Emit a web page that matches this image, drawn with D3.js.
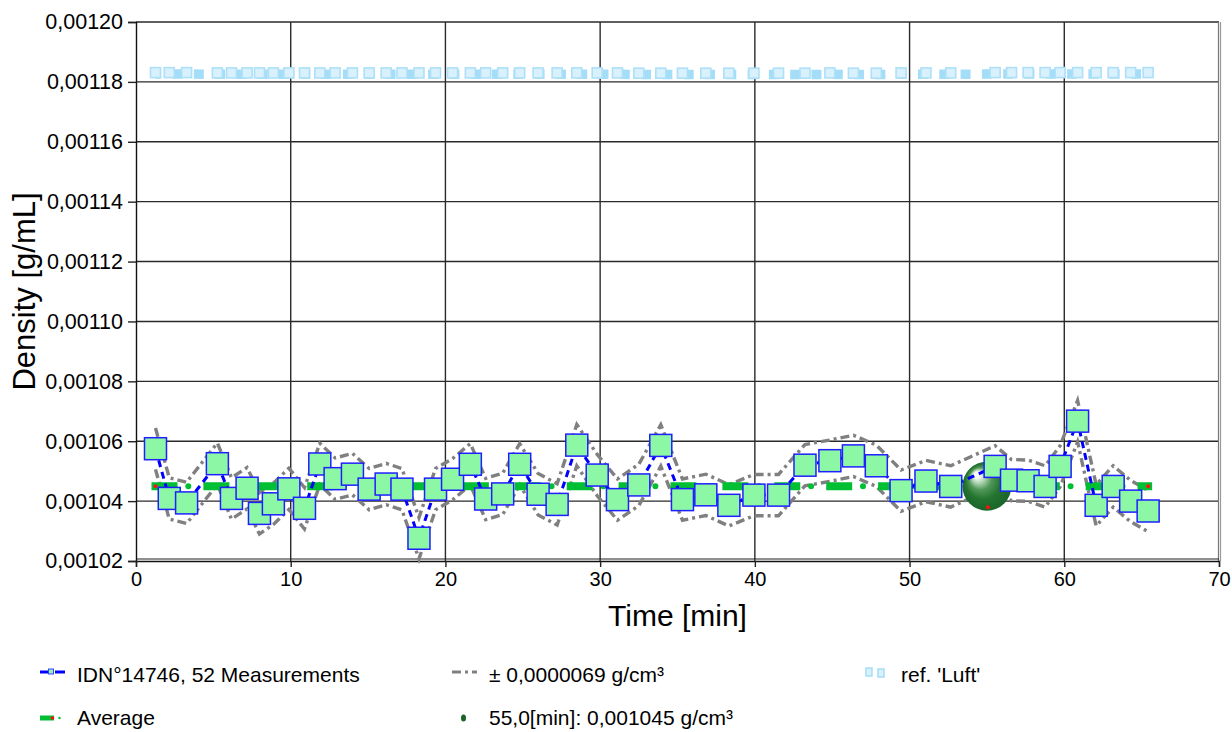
<!DOCTYPE html>
<html>
<head>
<meta charset="utf-8">
<script src="https://cdn.jsdelivr.net/npm/d3@7"></script>
<style>
  body { margin: 0; background: #fff; }
  svg { display: block; }
  text { font-family: "Liberation Sans", Arial, sans-serif; fill: #000; }
</style>
</head>
<body>
<svg id="chart" width="1232" height="732"></svg>
<script>
// Measurement times [min]
const times = [1.26, 2.15, 3.27, 5.26, 6.17, 7.18, 7.98, 8.88, 9.88, 10.89,
  11.88, 12.87, 13.99, 15.07, 16.17, 17.19, 18.29, 19.36, 20.46, 21.61,
  22.60, 23.70, 24.80, 25.99, 27.22, 28.49, 29.81, 31.12, 32.50, 33.92,
  35.32, 36.83, 38.32, 39.94, 41.53, 43.24, 44.85, 46.37, 47.85, 49.45,
  51.06, 52.66, 55.53, 56.59, 57.66, 58.76, 59.73, 60.86, 62.06, 63.16,
  64.29, 65.42];

// Sample density [g/mL], IDN°14746
const density = [0.0010575, 0.0010409, 0.0010394, 0.0010525, 0.0010409, 0.0010443, 0.0010359, 0.0010391, 0.0010441, 0.0010376,
  0.0010524, 0.0010475, 0.0010490, 0.0010440, 0.0010457, 0.0010440, 0.0010276, 0.0010440, 0.0010473, 0.0010523,
  0.0010407, 0.0010424, 0.0010523, 0.0010423, 0.0010389, 0.0010587, 0.0010487, 0.0010405, 0.0010454, 0.0010586,
  0.0010405, 0.0010421, 0.0010386, 0.0010420, 0.0010420, 0.0010520, 0.0010535, 0.0010551, 0.0010518, 0.0010435,
  0.0010467, 0.0010449, 0.0010516, 0.0010470, 0.0010468, 0.0010449, 0.0010516, 0.0010667, 0.0010386, 0.0010449,
  0.0010400, 0.0010367];

// Reference 'Luft' density [g/mL]
const refLuft = [0.0011831, 0.0011831, 0.0011831, 0.0011830, 0.0011830, 0.0011830, 0.0011830, 0.0011830, 0.0011830, 0.0011830,
  0.0011830, 0.0011830, 0.0011830, 0.0011830, 0.0011830, 0.0011830, 0.0011830, 0.0011830, 0.0011830, 0.0011830,
  0.0011830, 0.0011830, 0.0011830, 0.0011830, 0.0011830, 0.0011830, 0.0011830, 0.0011830, 0.0011829, 0.0011829,
  0.0011829, 0.0011829, 0.0011829, 0.0011829, 0.0011829, 0.0011829, 0.0011830, 0.0011829, 0.0011829, 0.0011830,
  0.0011830, 0.0011830, 0.0011831, 0.0011831, 0.0011831, 0.0011831, 0.0011831, 0.0011831, 0.0011831, 0.0011831,
  0.0011831, 0.0011831];

const averageValue = 0.001045;
const tolerance = 0.0000069;
const highlightPoint = { time: 55.0, value: 0.001045 };

const xTicks = [0, 10, 20, 30, 40, 50, 60, 70];
const yTicks = [0.00102, 0.00104, 0.00106, 0.00108, 0.00110, 0.00112, 0.00114, 0.00116, 0.00118, 0.00120];

const legendLabels = ["IDN°14746, 52 Measurements", "± 0,0000069 g/cm³", "ref. 'Luft'",
  "Average", "55,0[min]: 0,001045 g/cm³"];

const svg = d3.select("#chart");
const plotL = 136, plotR = 1219, plotT = 22, plotB = 561;
const x = d3.scaleLinear().domain([0, 70]).range([plotL, plotR]);
const y = d3.scaleLinear().domain([0.00102, 0.00120]).range([plotB, plotT]);
const fmt = d => d.toFixed(5).replace(".", ",");

// grid
const grid = svg.append("g");
grid.selectAll(".gx").data(xTicks.slice(1, -1)).join("line")
  .attr("x1", d => x(d)).attr("x2", d => x(d)).attr("y1", plotT).attr("y2", plotB)
  .attr("stroke", "#2a2a2a").attr("stroke-width", 1.4);
grid.selectAll(".gy").data(yTicks.slice(1)).join("line")
  .attr("x1", plotL).attr("x2", plotR).attr("y1", d => y(d)).attr("y2", d => y(d))
  .attr("stroke", "#2a2a2a").attr("stroke-width", 1.4);
// right frame (double grey)
grid.append("line").attr("x1", plotR - 0.5).attr("x2", plotR - 0.5).attr("y1", plotT).attr("y2", plotB)
  .attr("stroke", "#777").attr("stroke-width", 1.2);
grid.append("line").attr("x1", plotR + 1.5).attr("x2", plotR + 1.5).attr("y1", plotT).attr("y2", plotB)
  .attr("stroke", "#999").attr("stroke-width", 1.2);
// lower double line
grid.append("line").attr("x1", plotL).attr("x2", plotR).attr("y1", plotB - 2).attr("y2", plotB - 2)
  .attr("stroke", "#222").attr("stroke-width", 1.2);

// axes
const yAxis = svg.append("g").attr("transform", `translate(${plotL},0)`)
  .call(d3.axisLeft(y).tickValues(yTicks).tickSize(8).tickPadding(5).tickFormat(fmt));
yAxis.selectAll("text").style("font-size", "21.5px").attr("fill", "#000");
yAxis.selectAll("line").attr("stroke", "#222").attr("stroke-width", 1.4);
yAxis.select(".domain").attr("stroke", "#111").attr("stroke-width", 1.4);

const xAxis = svg.append("g").attr("transform", `translate(0,${plotB})`)
  .call(d3.axisBottom(x).tickValues(xTicks).tickSize(6).tickPadding(5).tickFormat(d3.format("d")));
xAxis.selectAll("text").style("font-size", "20px").attr("fill", "#000");
xAxis.selectAll("line").attr("stroke", "#222").attr("stroke-width", 1.4);
xAxis.select(".domain").attr("stroke", "#111").attr("stroke-width", 1.4);

// axis titles
svg.append("text").attr("x", (plotL + plotR) / 2).attr("y", 626).attr("text-anchor", "middle")
  .style("font-size", "30px").text("Time [min]");
svg.append("text").attr("transform", `translate(35,${(plotT + plotB) / 2}) rotate(-90)`)
  .attr("text-anchor", "middle").style("font-size", "31px").text("Density [g/mL]");

const pts = times.map((t, i) => ({ t, v: density[i], r: refLuft[i] }));
const line = d3.line().x(d => x(d[0])).y(d => y(d[1]));

// reference 'Luft'
svg.append("path").attr("d", line(pts.map(p => [p.t, p.r])))
  .attr("fill", "none").attr("stroke", "#a4ddf8").attr("stroke-width", 9.5)
  .attr("stroke-dasharray", "10,11.3").attr("stroke-dashoffset", -17)
  .attr("transform", "translate(0,1.4)");
svg.append("g").selectAll("rect").data(pts).join("rect")
  .attr("x", d => x(d.t) - 5).attr("y", d => y(d.r) - 5).attr("width", 10).attr("height", 10)
  .attr("fill", "#d8f1fc").attr("stroke", "#ade0f8").attr("stroke-width", 1.6);

// tolerance band
const band = svg.append("g");
[1, -1].forEach(s => {
  band.append("path").attr("d", line(pts.map(p => [p.t, p.v + s * tolerance])))
    .attr("fill", "none").attr("stroke", "#808080").attr("stroke-width", 3.4)
    .attr("stroke-dasharray", "9,4,3,4");
});

// average line
const avgPts = [[times[0], averageValue], [times[times.length - 1], averageValue]];
svg.append("path").attr("d", line(avgPts)).attr("fill", "none")
  .attr("stroke", "#00bf33").attr("stroke-width", 8).attr("stroke-linecap", "square")
  .attr("stroke-dasharray", "18,33.9");
svg.append("path").attr("d", line(avgPts)).attr("fill", "none")
  .attr("stroke", "#00bf33").attr("stroke-width", 6).attr("stroke-linecap", "round")
  .attr("stroke-dasharray", "0,51.9").attr("stroke-dashoffset", 19.1);
svg.selectAll(".avgEnd").data(avgPts).join("circle")
  .attr("cx", d => x(d[0])).attr("cy", d => y(d[1])).attr("r", 2).attr("fill", "#ff1010");

// highlighted point (sphere)
const defs = svg.append("defs");
const rg = defs.append("radialGradient").attr("id", "sphere")
  .attr("cx", "50%").attr("cy", "50%").attr("r", "55%").attr("fx", "27%").attr("fy", "24%");
[["0%", "#ffffff"], ["12%", "#f2f8f2"], ["24%", "#b3d6b5"], ["42%", "#4f9758"], ["65%", "#24742f"], ["100%", "#17622a"]]
  .forEach(([o, c]) => rg.append("stop").attr("offset", o).attr("stop-color", c));
const hx = x(highlightPoint.time), hy = y(highlightPoint.value);
svg.append("circle").attr("cx", hx).attr("cy", hy).attr("r", 24.5).attr("fill", "url(#sphere)");
svg.append("circle").attr("cx", hx + 1).attr("cy", hy + 21).attr("r", 2).attr("fill", "#ff1010");

// measurements
svg.append("path").attr("d", line(pts.map(p => [p.t, p.v]))).attr("fill", "none")
  .attr("stroke", "#0000ff").attr("stroke-width", 3).attr("stroke-dasharray", "7,5");
svg.append("g").selectAll("rect").data(pts).join("rect")
  .attr("x", d => x(d.t) - 11).attr("y", d => y(d.v) - 11).attr("width", 22).attr("height", 22)
  .attr("fill", "#8cf7a4").attr("stroke", "#1f1fff").attr("stroke-width", 1.5);

// legend
const lg = svg.append("g");
const r1 = 672, r2 = 718;
lg.append("line").attr("x1", 40).attr("x2", 65).attr("y1", r1).attr("y2", r1)
  .attr("stroke", "#0000ff").attr("stroke-width", 3).attr("stroke-dasharray", "8,7,10");
lg.append("rect").attr("x", 48.5).attr("y", r1 - 3).attr("width", 5).attr("height", 5)
  .attr("fill", "#8cf7a4").attr("stroke", "#4040ff").attr("stroke-width", 1);
lg.append("line").attr("x1", 452).attr("x2", 477).attr("y1", r1).attr("y2", r1)
  .attr("stroke", "#808080").attr("stroke-width", 3).attr("stroke-dasharray", "9,4,3,4");
[866, 878].forEach((px, i) => {
  lg.append("rect").attr("x", px).attr("y", r1 - 4 + i).attr("width", 6).attr("height", 8)
    .attr("fill", "#d8f1fc").attr("stroke", "#a4ddf8").attr("stroke-width", 1.5);
});
lg.append("rect").attr("x", 40).attr("y", r2 - 2.5).attr("width", 14).attr("height", 5).attr("fill", "#00bf33");
lg.append("circle").attr("cx", 52.5).attr("cy", r2).attr("r", 1.8).attr("fill", "#ff1010");
lg.append("circle").attr("cx", 59.5).attr("cy", r2).attr("r", 1.2).attr("fill", "#00bf33");
lg.append("ellipse").attr("cx", 463.5).attr("cy", r2).attr("rx", 2.5).attr("ry", 3.5).attr("fill", "#1b6428");

const legendPos = [[77, 681.5], [489, 681.5], [901, 681.5], [77, 724.5], [489, 724.5]];
lg.selectAll("text").data(legendLabels).join("text")
  .attr("x", (d, i) => legendPos[i][0]).attr("y", (d, i) => legendPos[i][1])
  .style("font-size", "21px").text(d => d);
</script>
</body>
</html>
